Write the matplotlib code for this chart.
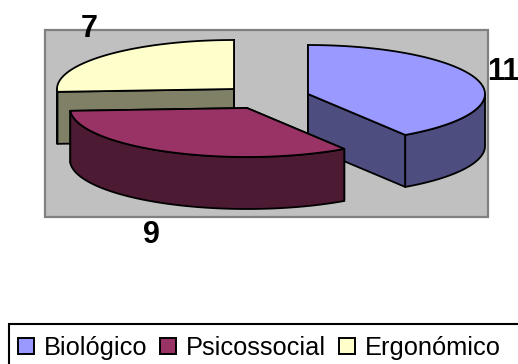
import numpy as np
import matplotlib
matplotlib.use('Agg')
import matplotlib.pyplot as plt
from matplotlib.patches import Polygon, Rectangle, Patch

plt.rcParams['font.family'] = ['Liberation Sans', 'DejaVu Sans']

categories = ['Biológico', 'Psicossocial', 'Ergonómico']
values = [11, 9, 7]
top_colors = ['#9999FF', '#993366', '#FFFFCC']
side_colors = ['#4D4D80', '#4D1A33', '#808066']

# exploded centers in pixels, one per slice
centers = [(308, 94), (247, 108), (234, 89)]
label_pos = [(503, 72), (151, 235), (89, 29)]
rx, ry, depth = 177, 49, 52

fig = plt.figure(figsize=(5.18, 3.64), dpi=100)
ax = fig.add_axes([0, 0, 1, 1])
ax.set_xlim(0, 518)
ax.set_ylim(364, 0)
ax.axis('off')

ax.add_patch(Rectangle((45, 30), 443, 187, facecolor='#C0C0C0', edgecolor='#808080', linewidth=1.6))


def arc(c, a0, a1):
    t = np.radians(np.linspace(a0, a1, 80))
    return np.column_stack([c[0] + rx * np.cos(t), c[1] + ry * np.sin(t) * -1])


def draw_slice(c, a0, a1, top, side):
    lw = 1.3
    # radial faces
    for a in (a0, a1):
        p = arc(c, a, a)[0]
        quad = [c, p, (p[0], p[1] + depth), (c[0], c[1] + depth)]
        ax.add_patch(Polygon(quad, facecolor=side, edgecolor='black', linewidth=lw, joinstyle='round'))
    # outer wall, only the part facing the viewer
    lo = max(min(a0, a1), -180)
    hi = min(max(a0, a1), 0)
    if hi > lo:
        pts = arc(c, lo, hi)
        wall = np.vstack([pts, (pts + [0, depth])[::-1]])
        ax.add_patch(Polygon(wall, facecolor=side, edgecolor='black', linewidth=lw, joinstyle='round'))
    pts = arc(c, a0, a1)
    ax.add_patch(Polygon(np.vstack([[c], pts]), facecolor=top, edgecolor='black', linewidth=lw, joinstyle='round'))


# slices run clockwise from 12 o'clock
total = sum(values)
edges = 90 - np.cumsum([0] + values) * 360 / total
for i in [2, 0, 1]:
    draw_slice(centers[i], edges[i], edges[i + 1], top_colors[i], side_colors[i])

for v, (x, y) in zip(values, label_pos):
    ax.text(x, y, str(v), fontsize=22, fontweight='bold', ha='center', va='center')

# legend box runs off the right and bottom of the picture
ax.add_patch(Rectangle((9, 324), 560, 80, facecolor='white', edgecolor='black', linewidth=1.5))
handles = [Patch(facecolor=c, edgecolor='black', linewidth=1.4) for c in top_colors]
leg = ax.legend(handles, categories, ncol=3, loc='lower left', bbox_to_anchor=(17.5 / 518, 4 / 364),
                bbox_transform=ax.transAxes, fontsize=18.3, frameon=False,
                handlelength=0.63, handleheight=0.63,
                handletextpad=0.4, columnspacing=0.5, borderaxespad=0, borderpad=0)

fig.savefig('out.png', dpi=100)
